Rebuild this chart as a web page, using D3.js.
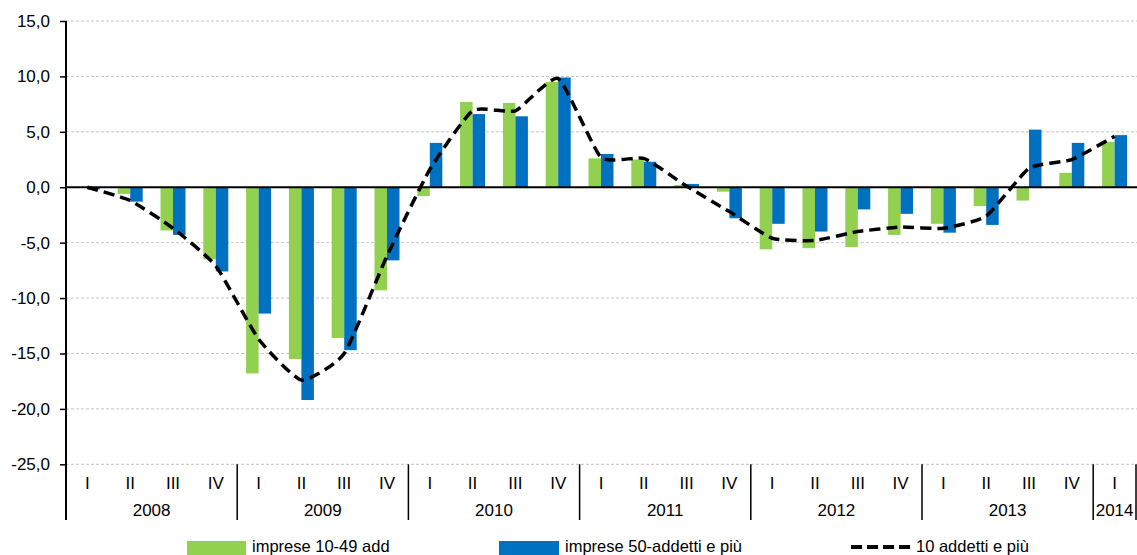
<!DOCTYPE html>
<html>
<head>
<meta charset="utf-8">
<script src="https://cdn.jsdelivr.net/npm/d3@7"></script>
<style>
  body { margin: 0; background: #fff; }
  text { font-family: "Liberation Sans", Arial, sans-serif; fill: #000; }
</style>
</head>
<body>
<script>
// quarters and years on the category axis
var quarters = ["I","II","III","IV","I","II","III","IV","I","II","III","IV",
                "I","II","III","IV","I","II","III","IV","I","II","III","IV","I"];
var years = ["2008","2009","2010","2011","2012","2013","2014"];
var yearSpan = [4, 4, 4, 4, 4, 4, 1];

// series values (variazioni %)
var small = [0.0, -0.6, -3.9, -6.5, -16.8, -15.5, -13.6, -9.3, -0.8, 7.7, 7.6, 9.5,
             2.6, 2.5, 0.2, -0.4, -5.6, -5.5, -5.4, -4.3, -3.3, -1.7, -1.2, 1.3, 4.1];
var large = [-0.2, -1.3, -4.3, -7.6, -11.4, -19.2, -14.7, -6.6, 4.0, 6.6, 6.4, 9.9,
             3.0, 2.3, 0.3, -2.8, -3.3, -4.0, -2.0, -2.4, -4.1, -3.4, 5.2, 4.0, 4.7];
var total = [0.0, -1.2, -3.7, -7.1, -13.7, -17.4, -15.0, -6.2, 1.6, 6.9, 6.9, 9.8,
             2.7, 2.6, 0.1, -2.2, -4.6, -4.8, -4.0, -3.6, -3.7, -2.6, 1.7, 2.5, 4.6];

var yTicks = [-25, -20, -15, -10, -5, 0, 5, 10, 15];
var seriesNames = ["imprese 10-49 add", "imprese 50-addetti e più", "10 addetti e più"];

var w = 1137, h = 555;
var plotLeft = 66, plotRight = 1136, plotTop = 21, plotBottom = 464.3, axisBottom = 520;

var svg = d3.select("body").append("svg")
    .attr("width", w)
    .attr("height", h);

var x = d3.scaleBand()
    .domain(d3.range(quarters.length))
    .range([plotLeft, plotRight]);

var bw = x.bandwidth();
var x1 = d3.scaleBand()
    .domain(["small", "large"])
    .range([bw / 2 - 12.5, bw / 2 + 12.5]);

var y = d3.scaleLinear()
    .domain([-25, 15])
    .range([plotBottom, plotTop]);

//italian number format with a plain hyphen for minus
var itFormat = d3.formatLocale({ decimal: ",", thousands: ".", grouping: [3], currency: ["€", ""], minus: "-" });
var fmt = itFormat.format(".1f");

//gridlines
svg.append("g").selectAll("line")
    .data(yTicks.filter(function(d){ return d !== 0; }))
    .enter().append("line")
    .attr("x1", plotLeft).attr("x2", w)
    .attr("y1", function(d){ return y(d); })
    .attr("y2", function(d){ return y(d); })
    .style("stroke", "#c4c4c4")
    .style("stroke-width", 1)
    .style("stroke-dasharray", "3,2");

//y axis
var yAxis = svg.append("g")
    .attr("transform", "translate(" + plotLeft + ",0)")
    .call(d3.axisLeft(y).tickValues(yTicks).tickFormat(fmt)
        .tickSize(6).tickSizeOuter(0).tickPadding(10));
yAxis.select(".domain").remove();
yAxis.selectAll("line").style("stroke", "#000").style("stroke-width", 1.5);
yAxis.selectAll("text")
    .style("font-size", "17px")
    .style("font-family", "'Liberation Sans', Arial, sans-serif")
    .attr("fill", "#000");

//bars
var colors = { small: "#92D050", large: "#0070C0" };
var barData = [];
quarters.forEach(function(q, i){
    barData.push({ i: i, key: "small", v: small[i] });
    barData.push({ i: i, key: "large", v: large[i] });
});

svg.append("g").selectAll("rect")
    .data(barData)
    .enter().append("rect")
    .attr("x", function(d){ return x(d.i) + x1(d.key); })
    .attr("width", x1.bandwidth())
    .attr("y", function(d){ return y(Math.max(0, d.v)); })
    .attr("height", function(d){ return Math.abs(y(d.v) - y(0)); })
    .style("fill", function(d){ return colors[d.key]; });

//zero line
svg.append("line")
    .attr("x1", plotLeft).attr("x2", w)
    .attr("y1", y(0)).attr("y2", y(0))
    .style("stroke", "#000")
    .style("stroke-width", 2);

//smoothed dashed line
var line = d3.line()
    .x(function(d, i){ return x(i) + bw / 2; })
    .y(function(d){ return y(d); })
    .curve(d3.curveCardinal.tension(0.5));

svg.append("path")
    .datum(total)
    .attr("d", line)
    .style("fill", "none")
    .style("stroke", "#000")
    .style("stroke-width", 3.5)
    .style("stroke-dasharray", "11,6");

//vertical axis line
svg.append("line")
    .attr("x1", plotLeft).attr("x2", plotLeft)
    .attr("y1", plotTop).attr("y2", axisBottom)
    .style("stroke", "#000")
    .style("stroke-width", 2);

//quarter labels
svg.append("g").selectAll("text")
    .data(quarters)
    .enter().append("text")
    .attr("x", function(d, i){ return x(i) + bw / 2; })
    .attr("y", 489)
    .attr("text-anchor", "middle")
    .style("font-size", "17px")
    .text(function(d){ return d; });

//year labels and separators
var start = 0;
var yearPos = years.map(function(yr, k){
    var s = start;
    start += yearSpan[k];
    return { year: yr, s: s, e: start };
});

svg.append("g").selectAll("text")
    .data(yearPos)
    .enter().append("text")
    .attr("x", function(d){ return (x(d.s) + x(d.e - 1) + bw) / 2; })
    .attr("y", 516)
    .attr("text-anchor", "middle")
    .style("font-size", "17px")
    .text(function(d){ return d.year; });

svg.append("g").selectAll("line")
    .data(yearPos)
    .enter().append("line")
    .attr("x1", function(d){ return x(d.e - 1) + bw; })
    .attr("x2", function(d){ return x(d.e - 1) + bw; })
    .attr("y1", plotBottom).attr("y2", axisBottom)
    .style("stroke", "#000")
    .style("stroke-width", 1.5);

//legend
var legend = svg.append("g");
legend.append("rect").attr("x", 187).attr("y", 541).attr("width", 59).attr("height", 14)
    .style("fill", colors.small);
legend.append("text").attr("x", 252).attr("y", 552).style("font-size", "16.5px")
    .text(seriesNames[0]);
legend.append("rect").attr("x", 499).attr("y", 541).attr("width", 60).attr("height", 14)
    .style("fill", colors.large);
legend.append("text").attr("x", 565).attr("y", 552).style("font-size", "16.5px")
    .text(seriesNames[1]);
legend.append("line").attr("x1", 851).attr("x2", 910).attr("y1", 547).attr("y2", 547)
    .style("stroke", "#000").style("stroke-width", 4).style("stroke-dasharray", "11,5");
legend.append("text").attr("x", 916).attr("y", 552).style("font-size", "16.5px")
    .text(seriesNames[2]);
</script>
</body>
</html>
